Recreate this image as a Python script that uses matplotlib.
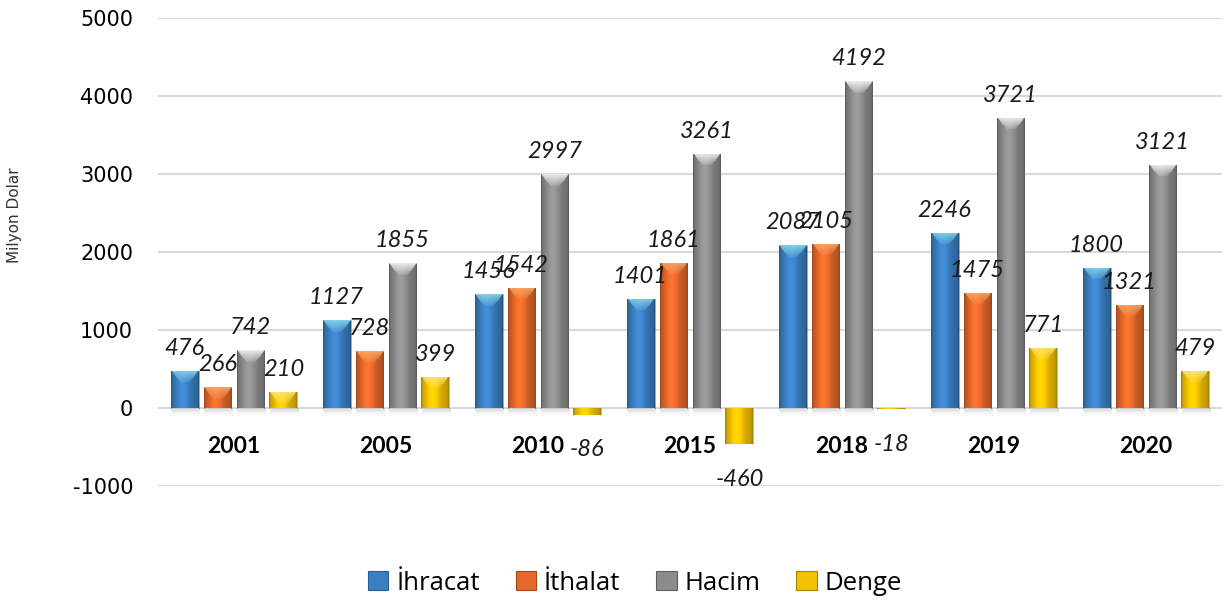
import numpy as np
import matplotlib
matplotlib.use("Agg")
import matplotlib.pyplot as plt
from matplotlib.colors import to_rgb
from matplotlib.patches import Patch

years = ["2001", "2005", "2010", "2015", "2018", "2019", "2020"]
series_names = ["İhracat", "İthalat", "Hacim", "Denge"]
ihracat = [476, 1127, 1456, 1401, 2087, 2246, 1800]
ithalat = [266, 728, 1542, 1861, 2105, 1475, 1321]
hacim = [742, 1855, 2997, 3261, 4192, 3721, 3121]
denge = [210, 399, -86, -460, -18, 771, 479]
yticks = [-1000, 0, 1000, 2000, 3000, 4000, 5000]

series = [ihracat, ithalat, hacim, denge]
base_colors = ["#3b7fc2", "#e4682a", "#8c8c8c", "#f2c100"]
top_colors = ["#86d6ea", "#f7a866", "#f4f4f4", "#fbe77a"]
edge_colors = ["#2a5f92", "#a8481a", "#5f5f5f", "#a88300"]

fig = plt.figure(figsize=(12.24, 6.0), dpi=100)
ax = fig.add_axes([158/1224, 114/600, 1064/1224, 468/600])

x = np.arange(len(years))
step = 0.217
width = 0.184
offsets = (np.arange(4) - 1.5) * step

px_per_unit = 468 / 6000.0

def bar_image(base, top, hpx, positive):
    n_cols = 40
    t = np.linspace(0, 1, n_cols)
    prof = 0.80 + 0.32 * np.exp(-((t - 0.42) / 0.28) ** 2)
    prof[:2] *= 0.85
    prof[-2:] *= 0.85
    b = np.array(to_rgb(base))
    tp = np.array(to_rgb(top))
    rows = max(int(round(abs(hpx))), 2)
    img = np.zeros((rows, n_cols, 3))
    col = np.clip(b[None, :] * prof[:, None], 0, 1)
    for r in range(rows):
        img[r] = col
    if positive:
        cap = min(12, rows)
        for r in range(cap):
            frac = 1 - r / cap
            inset = r / cap * 0.35
            mask = (t >= inset) & (t <= 1 - inset)
            w = 0.8 * frac + 0.1
            img[r, mask] = img[r, mask] * (1 - w) + tp * w
    return img

for i, (vals, bc, tc, ec) in enumerate(zip(series, base_colors, top_colors, edge_colors)):
    bars = ax.bar(x + offsets[i], vals, width=width, color=bc, edgecolor="none",
                  zorder=3, label=series_names[i])
    for p, v in zip(bars.patches, vals):
        bx, by = p.get_x(), p.get_y()
        bw, bh = p.get_width(), p.get_height()
        y0, y1 = min(by, by + bh), max(by, by + bh)
        if v >= 0:
            for k, a in enumerate([0.22, 0.15, 0.08]):
                ax.fill_between([bx + 0.005, bx + bw + 0.012], [-35 * (k + 1)] * 2, [0, 0],
                                color="#b8b8b8", alpha=a, zorder=2, linewidth=0)
        img = bar_image(bc, tc, bh * px_per_unit, v >= 0)
        if v < 0:
            img = img[::-1]
        im = ax.imshow(img, extent=[bx, bx + bw, y0, y1], aspect="auto",
                       origin="upper", zorder=4, interpolation="bilinear")
        im.set_clip_path(p)
        ax.plot([bx, bx], [y0, y1], color=ec, lw=0.6, zorder=5, alpha=0.6)
        ax.plot([bx + bw, bx + bw], [y0, y1], color=ec, lw=0.6, zorder=5, alpha=0.6)
        if v >= 0:
            ax.annotate(str(v), (bx + bw / 2, y1), xytext=(0, 11.5), textcoords="offset points",
                        ha="center", va="baseline", fontsize=17, fontstyle="italic",
                        family="Lato", color="#1a1a1a", zorder=6)
        else:
            ax.annotate(str(v), (bx + bw / 2, y0), xytext=(0, -30), textcoords="offset points",
                        ha="center", va="baseline", fontsize=17, fontstyle="italic",
                        family="Lato", color="#1a1a1a", zorder=6)

ax.set_xlim(-0.5, len(years) - 0.5)
ax.set_ylim(-1000, 5000)
ax.set_yticks(yticks)
ax.set_yticklabels([str(t) for t in yticks], fontsize=15, family="DejaVu Sans")
ax.yaxis.grid(True, color="#d9d9d9", lw=1.5, zorder=0)
ax.set_axisbelow(True)
for s in ax.spines.values():
    s.set_visible(False)
ax.tick_params(axis="y", length=0, pad=18)
ax.spines["bottom"].set_position(("data", 0))
ax.set_xticks(x)
ax.set_xticklabels(years, fontsize=16.5, fontweight="bold", family="Lato")
ax.tick_params(axis="x", length=0, pad=20)

fig.text(15/1224, 1 - 215/600, "Milyon Dolar", rotation=90, fontsize=11,
         ha="center", va="center", family="DejaVu Sans", color="#333333")

handles = [Patch(facecolor=bc, edgecolor=ec, linewidth=0.8) for bc, ec in zip(base_colors, edge_colors)]
fig.legend(handles, series_names, loc="center", bbox_to_anchor=(635/1224, 1 - 583/600),
           ncol=4, frameon=False, prop={"family": "Open Sans", "size": 18.5},
           handlelength=0.8, handleheight=0.8, handletextpad=0.3, columnspacing=1.4)

fig.savefig("out.png", dpi=100)
